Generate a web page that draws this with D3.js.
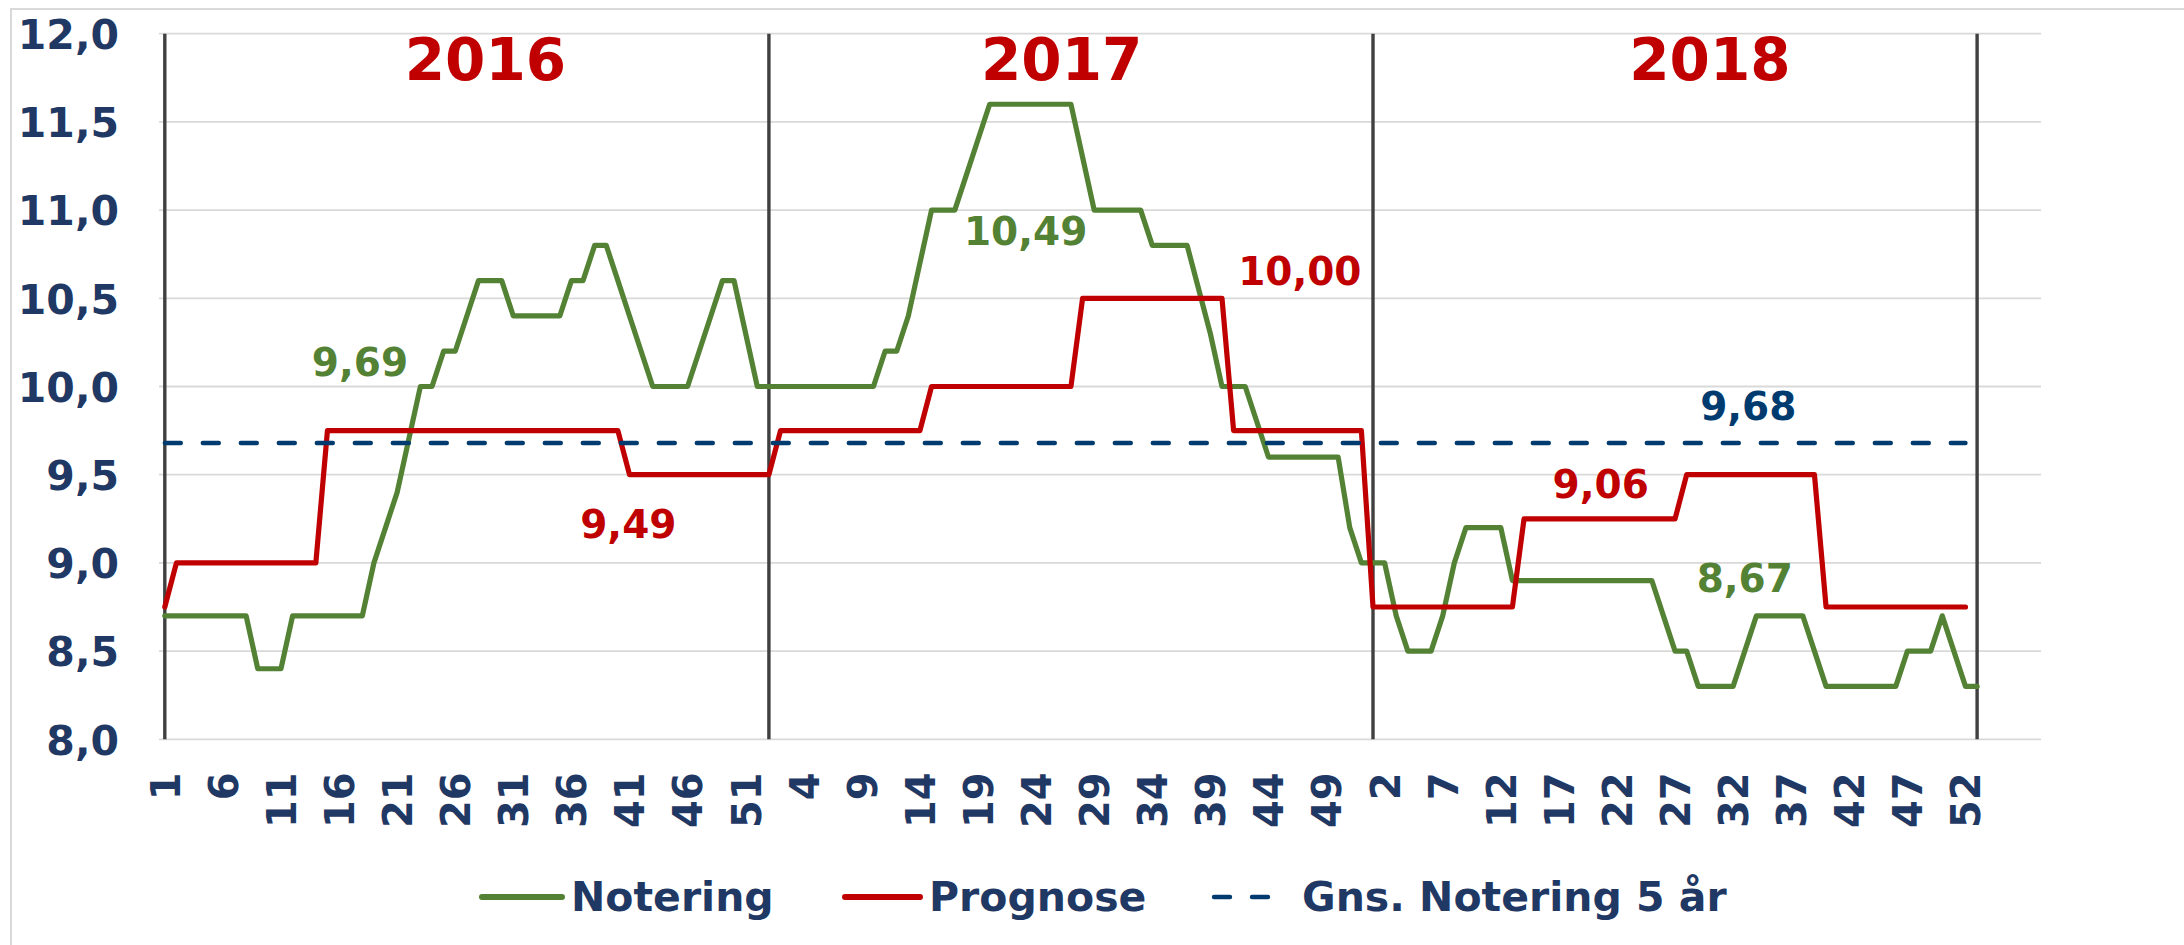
<!DOCTYPE html>
<html>
<head>
<meta charset="utf-8">
<script src="https://cdn.jsdelivr.net/npm/d3@7"></script>
<style>
  body { margin: 0; background: #fff; }
  svg { display: block; font-family: "DejaVu Sans", Verdana, sans-serif; font-weight: bold; }
</style>
</head>
<body>
<div id="chart"></div>
<script>
// ---- data ----
const years = ["2016", "2017", "2018"];

// Notering, weekly (2018 list also holds week 1 of 2019)
const notering2016 = [8.7, 8.7, 8.7, 8.7, 8.7, 8.7, 8.7, 8.7, 8.4, 8.4, 8.4,
    8.7, 8.7, 8.7, 8.7, 8.7, 8.7, 8.7, 9.0, 9.2, 9.4, 9.7,
    10.0, 10.0, 10.2, 10.2, 10.4, 10.6, 10.6, 10.6, 10.4, 10.4, 10.4, 10.4, 10.4,
    10.6, 10.6, 10.8, 10.8, 10.6, 10.4, 10.2, 10.0, 10.0, 10.0, 10.0,
    10.2, 10.4, 10.6, 10.6, 10.3, 10.0];
const notering2017 = [10.0, 10.0, 10.0, 10.0, 10.0, 10.0, 10.0, 10.0, 10.0, 10.0,
    10.2, 10.2, 10.4, 10.7, 11.0, 11.0, 11.0, 11.2, 11.4,
    11.6, 11.6, 11.6, 11.6, 11.6, 11.6, 11.6, 11.6, 11.3,
    11.0, 11.0, 11.0, 11.0, 11.0, 10.8, 10.8, 10.8, 10.8, 10.55, 10.3,
    10.0, 10.0, 10.0, 9.8, 9.6, 9.6, 9.6, 9.6, 9.6, 9.6, 9.6, 9.2, 9.0];
const notering2018 = [9.0, 9.0, 8.7, 8.5, 8.5, 8.5, 8.7, 9.0, 9.2, 9.2, 9.2, 9.2,
    8.9, 8.9, 8.9, 8.9, 8.9, 8.9, 8.9, 8.9, 8.9, 8.9, 8.9, 8.9, 8.9,
    8.7, 8.5, 8.5, 8.3, 8.3, 8.3, 8.3, 8.5, 8.7, 8.7, 8.7, 8.7, 8.7, 8.5,
    8.3, 8.3, 8.3, 8.3, 8.3, 8.3, 8.3, 8.5, 8.5, 8.5, 8.7, 8.5, 8.3, 8.3];

// Prognose, weekly
const prognose2016 = [8.75, 9.0, 9.0, 9.0, 9.0, 9.0, 9.0, 9.0, 9.0, 9.0, 9.0, 9.0, 9.0, 9.0,
    9.75, 9.75, 9.75, 9.75, 9.75, 9.75, 9.75, 9.75, 9.75, 9.75, 9.75, 9.75, 9.75,
    9.75, 9.75, 9.75, 9.75, 9.75, 9.75, 9.75, 9.75, 9.75, 9.75, 9.75, 9.75, 9.75,
    9.5, 9.5, 9.5, 9.5, 9.5, 9.5, 9.5, 9.5, 9.5, 9.5, 9.5, 9.5];
const prognose2017 = [9.5, 9.75, 9.75, 9.75, 9.75, 9.75, 9.75, 9.75, 9.75, 9.75, 9.75, 9.75, 9.75, 9.75,
    10.0, 10.0, 10.0, 10.0, 10.0, 10.0, 10.0, 10.0, 10.0, 10.0, 10.0, 10.0, 10.0,
    10.5, 10.5, 10.5, 10.5, 10.5, 10.5, 10.5, 10.5, 10.5, 10.5, 10.5, 10.5, 10.5,
    9.75, 9.75, 9.75, 9.75, 9.75, 9.75, 9.75, 9.75, 9.75, 9.75, 9.75, 9.75];
const prognose2018 = [8.75, 8.75, 8.75, 8.75, 8.75, 8.75, 8.75, 8.75, 8.75, 8.75, 8.75, 8.75, 8.75,
    9.25, 9.25, 9.25, 9.25, 9.25, 9.25, 9.25, 9.25, 9.25, 9.25, 9.25, 9.25, 9.25, 9.25,
    9.5, 9.5, 9.5, 9.5, 9.5, 9.5, 9.5, 9.5, 9.5, 9.5, 9.5, 9.5,
    8.75, 8.75, 8.75, 8.75, 8.75, 8.75, 8.75, 8.75, 8.75, 8.75, 8.75, 8.75, 8.75];

// five-year average of Notering
const gnsNotering5 = 9.68;

const yTicks = [8.0, 8.5, 9.0, 9.5, 10.0, 10.5, 11.0, 11.5, 12.0];

// yearly averages written on the chart (idx = week position, val = baseline value)
const avgLabels = [
    {text: "9,69",  idx: 16.8,  val: 10.06,  color: "#548235"},
    {text: "9,49",  idx: 39.9,  val: 9.14,   color: "#C00000"},
    {text: "10,49", idx: 74.1,  val: 10.80,  color: "#548235"},
    {text: "10,00", idx: 97.7,  val: 10.575, color: "#C00000"},
    {text: "9,68",  idx: 136.3, val: 9.81,   color: "#003B6F"},
    {text: "9,06",  idx: 123.6, val: 9.37,   color: "#C00000"},
    {text: "8,67",  idx: 136.0, val: 8.835,  color: "#548235"}
];
const yearLabelIdx = [27.6, 77.2, 133.0];

// ---- build ----
const notering = notering2016.concat(notering2017, notering2018);
const prognose = prognose2016.concat(prognose2017, prognose2018);
const yearStarts = [0, notering2016.length, notering2016.length + notering2017.length,
    notering2016.length + notering2017.length + notering2018.length - 1];

// week number shown under each category
const weekLabels = [];
[notering2016, notering2017, notering2018].forEach(function(arr) {
    arr.forEach(function(d, i) { weekLabels.push(i + 1); });
});
weekLabels[weekLabels.length - 1] = 1;

const nCat = notering.length + 5;   // plot area runs a bit past the last week

const W = 2184, H = 945;
const green = "#548235", red = "#C00000", navy = "#1F3864", dashCol = "#003B6F";

const svg = d3.select("#chart").append("svg")
    .attr("width", W)
    .attr("height", H);

svg.append("rect").attr("width", W).attr("height", H).attr("fill", "#fff");

// chart border (only top/left visible)
svg.append("path")
    .attr("d", "M11," + H + "V9H" + W)
    .attr("fill", "none")
    .attr("stroke", "#D9D9D9")
    .attr("stroke-width", 2);

const x = d3.scaleLinear()
    .domain([-0.5, nCat - 0.5])
    .range([159, 2041]);

const y = d3.scaleLinear()
    .domain([8, 12])
    .range([739.3, 33.7]);

// gridlines
svg.append("g").selectAll("line")
    .data(yTicks)
    .enter().append("line")
    .attr("x1", x(-0.5))
    .attr("x2", x(nCat - 0.5))
    .attr("y1", d => y(d))
    .attr("y2", d => y(d))
    .attr("stroke", "#D9D9D9")
    .attr("stroke-width", 1.8);

// year separators
svg.append("g").selectAll("line")
    .data(yearStarts)
    .enter().append("line")
    .attr("x1", d => x(d))
    .attr("x2", d => x(d))
    .attr("y1", y(12))
    .attr("y2", y(8))
    .attr("stroke", "#404040")
    .attr("stroke-width", 3.4);

// y axis
svg.append("g")
    .attr("transform", "translate(119,0)")
    .call(d3.axisLeft(y)
        .tickValues(yTicks)
        .tickSize(0)
        .tickPadding(0)
        .tickFormat(d => d3.format(".1f")(d).replace(".", ",")))
    .call(g => g.select(".domain").remove())
    .selectAll("text")
    .attr("fill", navy)
    .attr("dy", "0.36em")
    .style("font-size", "41px")
    .style("font-family", "'DejaVu Sans', Verdana, sans-serif")
    .style("font-weight", "bold");

// x axis (week numbers, rotated)
svg.append("g")
    .attr("transform", "translate(0," + y(8) + ")")
    .call(d3.axisBottom(x)
        .tickValues(d3.range(0, notering.length, 5))
        .tickSize(0)
        .tickFormat(i => weekLabels[i]))
    .call(g => g.select(".domain").remove())
    .selectAll("text")
    .attr("transform", "rotate(-90)")
    .attr("x", -33)
    .attr("y", 0)
    .attr("dy", "0.36em")
    .style("text-anchor", "end")
    .attr("fill", navy)
    .style("font-size", "40px")
    .style("font-family", "'DejaVu Sans', Verdana, sans-serif")
    .style("font-weight", "bold");

const line = d3.line()
    .x((d, i) => x(i))
    .y(d => y(d));

svg.append("path")
    .datum(notering)
    .attr("d", line)
    .attr("fill", "none")
    .attr("stroke", green)
    .attr("stroke-width", 5.2)
    .attr("stroke-linejoin", "round")
    .attr("stroke-linecap", "round");

svg.append("path")
    .datum(prognose)
    .attr("d", line)
    .attr("fill", "none")
    .attr("stroke", red)
    .attr("stroke-width", 5.2)
    .attr("stroke-linejoin", "round")
    .attr("stroke-linecap", "round");

svg.append("line")
    .attr("x1", x(0))
    .attr("x2", x(prognose.length - 1))
    .attr("y1", y(gnsNotering5))
    .attr("y2", y(gnsNotering5))
    .attr("stroke", dashCol)
    .attr("stroke-width", 4.4)
    .attr("stroke-dasharray", "16,22")
    .attr("stroke-linecap", "round");

// year headings
svg.append("g").selectAll("text")
    .data(years)
    .enter().append("text")
    .attr("x", (d, i) => x(yearLabelIdx[i]))
    .attr("y", y(11.737))
    .attr("text-anchor", "middle")
    .attr("fill", red)
    .style("font-size", "58px")
    .text(d => d);

// average labels
svg.append("g").selectAll("text")
    .data(avgLabels)
    .enter().append("text")
    .attr("x", d => x(d.idx))
    .attr("y", d => y(d.val))
    .attr("text-anchor", "middle")
    .attr("fill", d => d.color)
    .style("font-size", "39px")
    .text(d => d.text);

// legend
const legendItems = [
    {name: "Notering", color: green, dash: null, x1: 482, x2: 562, tx: 571},
    {name: "Prognose", color: red, dash: null, x1: 845, x2: 920, tx: 929},
    {name: "Gns. Notering 5 år", color: dashCol, dash: "16,22", x1: 1214, x2: 1268, tx: 1302}
];
const legend = svg.append("g").attr("class", "legend");
legendItems.forEach(function(d) {
    legend.append("line")
        .attr("x1", d.x1).attr("x2", d.x2)
        .attr("y1", 897).attr("y2", 897)
        .attr("stroke", d.color)
        .attr("stroke-width", d.dash ? 4.4 : 6)
        .attr("stroke-dasharray", d.dash)
        .attr("stroke-linecap", "round");
    legend.append("text")
        .attr("x", d.tx)
        .attr("y", 911)
        .attr("fill", navy)
        .style("font-size", "41px")
        .text(d.name);
});
</script>
</body>
</html>
